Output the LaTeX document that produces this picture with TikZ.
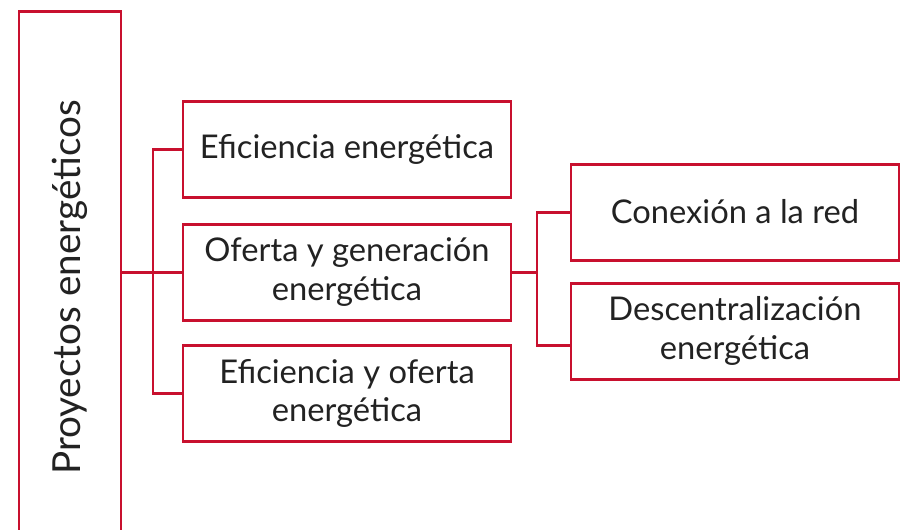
\documentclass[tikz,border=0pt]{standalone}
\usepackage{fontspec}
\setmainfont{Lato}
\definecolor{rojo}{HTML}{C8102E}
\definecolor{texto}{HTML}{222222}
\begin{document}
\begin{tikzpicture}[
		caja/.style={draw=rojo, line width=1.7pt, fill=white, text=texto, align=center,
			minimum width=6.56cm, minimum height=1.92cm, inner sep=2pt, font=\fontsize{18.6}{22}\selectfont},
		linea/.style={draw=rojo, line width=1.7pt}
	]
		\clip (0,0) rectangle (18.06,-10.58);									% Marco
		
		% Caja principal
		\node[caja, minimum width=2.04cm, minimum height=11.06cm, font=\fontsize{22}{26}\selectfont]
			(proy) at (1.4,-5.75) {\rotatebox{90}{Proyectos energéticos}};
		
		% Primer nivel
		\node[caja] (c1) at (6.94,-2.98) 		{Eficiencia energética};
		\node[caja] (c2) at (6.94,-5.44) 		{Oferta y generación\\energética};
		\node[caja] (c3) at (6.94,-7.87)		{Eficiencia y oferta\\energética};
		
		% Segundo nivel
		\node[caja] (c4) at (14.7,-4.24) 		{Conexión a la red};
		\node[caja] (c5) at (14.7,-6.62) 		{Descentralización\\energética};
		
		% Conectores
		\coordinate (r1) at (3.06,-5.44);
		\coordinate (r2) at (10.74,-5.44);
		\draw[linea] (proy.east |- c2.west) -- (c2.west);
		\draw[linea] (c1.west) -| (r1) |- (c3.west);
		\draw[linea] (c2.east) -- (r2);
		\draw[linea] (c4.west) -| (r2) |- ([yshift=-0.28cm]c5.west);
	\end{tikzpicture}
\end{document}
